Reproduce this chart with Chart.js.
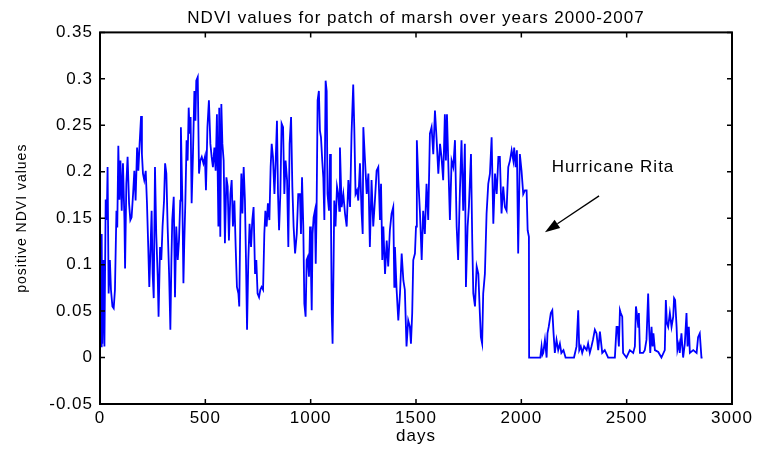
<!DOCTYPE html>
<html>
<head>
<meta charset="utf-8">
<title>NDVI values for patch of marsh over years 2000-2007</title>
<script src="https://cdn.jsdelivr.net/npm/chart.js@4.4.1/dist/chart.umd.min.js"></script>
<style>
  html, body { margin: 0; padding: 0; background: #fff; }
  #wrap { width: 761px; height: 449px; position: relative; }
</style>
</head>
<body>
<div id="wrap"><canvas id="ndviChart"></canvas></div>
<script>
// [day, NDVI] pairs, one array per year
const year2000 = [
  [0,0.155],[5,0.012],[8,0.133],[11,0.015],[16,0.105],[21,0.012],[27,0.17],[32,0.148],[36,0.205],[41,0.069],
  [47,0.105],[52,0.073],[59,0.055],[65,0.053],[71,0.073],[78,0.158],[82,0.14],[87,0.228],[92,0.17],[97,0.212],
  [103,0.158],[109,0.209],[116,0.148],[119,0.096],[125,0.187],[131,0.216],[138,0.166],[144,0.148],[150,0.151],[157,0.176],
  [163,0.201],[169,0.169],[176,0.226],[182,0.201],[188,0.23],[195,0.26],[199,0.219],[204,0.198],[210,0.191],[217,0.201],
  [223,0.166],[229,0.119],[234,0.076],[239,0.112],[245,0.158],[250,0.09],[255,0.064],[261,0.205],[267,0.133],[274,0.087],
  [278,0.044],[285,0.119],[291,0.105],[297,0.141],[304,0.169],[309,0.209],[315,0.198],[321,0.141],[328,0.09],[334,0.03],
  [339,0.105],[343,0.148],[350,0.173],[356,0.065],[362,0.141]
];
const year2001 = [
  [369,0.105],[375,0.126],[381,0.169],[384,0.248],[391,0.169],[396,0.08],[400,0.123],[405,0.166],[411,0.234],[416,0.212],
  [421,0.269],[426,0.241],[430,0.259],[435,0.166],[441,0.216],[448,0.287],[453,0.255],[457,0.298],[464,0.302],[470,0.198],
  [476,0.212],[483,0.216],[491,0.209],[498,0.216],[503,0.18],[510,0.248],[517,0.277],[524,0.23],[530,0.216],[536,0.205],
  [543,0.226],[549,0.201],[555,0.262],[562,0.141],[566,0.269],[571,0.13],[576,0.273],[581,0.23],[587,0.212],[593,0.123],
  [600,0.194],[606,0.184],[612,0.126],[619,0.176],[625,0.191],[631,0.141],[638,0.169],[644,0.119],[650,0.076],[657,0.069],
  [661,0.055],[666,0.148],[671,0.198],[676,0.155],[682,0.205],[688,0.169],[693,0.105],[698,0.03],[704,0.105],[710,0.144],
  [717,0.119],[723,0.148],[729,0.162]
];
const year2002 = [
  [736,0.09],[742,0.105],[748,0.069],[755,0.065],[761,0.073],[767,0.076],[774,0.073],[780,0.133],[785,0.158],[791,0.141],
  [797,0.166],[804,0.148],[810,0.205],[815,0.23],[821,0.216],[828,0.176],[834,0.212],[840,0.255],[845,0.176],[850,0.137],
  [856,0.176],[862,0.252],[869,0.248],[875,0.176],[881,0.212],[888,0.191],[894,0.119],[900,0.23],[907,0.259],[913,0.184],
  [919,0.141],[926,0.112],[934,0.133],[941,0.176],[949,0.176],[954,0.133],[959,0.194],[965,0.141],[970,0.058],[976,0.044],
  [981,0.105],[986,0.108],[992,0.087],[997,0.141],[1001,0.098],[1005,0.051],[1009,0.133],[1014,0.151],[1020,0.158],[1024,0.101],
  [1028,0.155],[1033,0.277],[1039,0.287],[1044,0.244],[1049,0.237],[1055,0.212],[1060,0.194],[1065,0.148],[1071,0.298],[1076,0.287],
  [1080,0.176],[1087,0.158],[1092,0.219]
];
const year2003 = [
  [1096,0.162],[1100,0.048],[1104,0.015],[1109,0.105],[1112,0.169],[1118,0.141],[1125,0.184],[1131,0.176],[1136,0.158],[1139,0.226],
  [1147,0.162],[1155,0.176],[1163,0.155],[1171,0.141],[1179,0.191],[1187,0.162],[1194,0.241],[1202,0.294],[1207,0.248],[1213,0.176],
  [1220,0.18],[1226,0.169],[1234,0.209],[1242,0.155],[1247,0.133],[1250,0.248],[1258,0.212],[1266,0.176],[1274,0.198],[1281,0.119],
  [1289,0.191],[1297,0.141],[1305,0.169],[1313,0.201],[1321,0.205],[1329,0.148],[1334,0.187],[1340,0.105],[1345,0.141],[1353,0.09],
  [1361,0.126],[1368,0.098],[1376,0.137],[1384,0.155],[1392,0.162],[1397,0.076],[1400,0.119],[1408,0.073],[1416,0.04],[1424,0.069],
  [1432,0.112],[1440,0.083],[1447,0.073],[1455,0.012]
];
const year2004 = [
  [1463,0.04],[1471,0.033],[1476,0.015],[1482,0.048],[1487,0.105],[1495,0.112],[1500,0.141],[1504,0.234],[1511,0.191],[1519,0.155],
  [1527,0.105],[1534,0.158],[1542,0.133],[1550,0.187],[1558,0.148],[1566,0.241],[1574,0.248],[1582,0.219],[1590,0.266],[1598,0.234],
  [1606,0.198],[1614,0.23],[1621,0.216],[1629,0.191],[1637,0.262],[1642,0.212],[1647,0.262],[1653,0.212],[1661,0.148],[1669,0.212],
  [1677,0.205],[1685,0.234],[1693,0.141],[1700,0.105],[1708,0.176],[1716,0.234],[1724,0.158],[1732,0.23],[1737,0.076],[1745,0.141],
  [1751,0.162],[1761,0.219],[1767,0.126],[1772,0.069],[1780,0.055],[1788,0.098],[1796,0.09],[1803,0.048],[1808,0.022],[1814,0.015],
  [1819,0.069]
];
const year2005 = [
  [1827,0.09],[1835,0.155],[1843,0.187],[1851,0.198],[1859,0.237],[1867,0.144],[1875,0.198],[1883,0.176],[1891,0.216],[1898,0.216],
  [1906,0.155],[1914,0.184],[1922,0.162],[1930,0.158],[1938,0.205],[1946,0.212],[1954,0.223],[1962,0.212],[1966,0.226],[1973,0.205],
  [1979,0.223],[1985,0.112],[1993,0.219],[2001,0.201],[2009,0.176],[2017,0.18],[2025,0.18],[2030,0.137],[2036,0.13],[2037,0],
  [2090,0],[2096,0.012],[2100,0.003],[2104,0.005],[2112,0.019],[2120,0],[2124,0.026],[2130,0.033],[2140,0.048],[2147,0.051],
  [2153,0.026],[2159,0.005],[2167,0.019],[2175,0.008],[2183,0.015],[2190,0.005]
];
const year2006 = [
  [2200,0.008],[2210,0],[2250,0],[2262,0.012],[2270,0.051],[2275,0.008],[2282,0.012],[2289,0.005],[2298,0.012],[2310,0.008],
  [2317,0.015],[2325,0.005],[2333,0.012],[2340,0.019],[2349,0.03],[2357,0.026],[2365,0.008],[2373,0.028],[2384,0.005],[2396,0.008],
  [2412,0],[2444,0],[2452,0.033],[2457,0.033],[2463,0.012],[2468,0.051],[2472,0.048],[2479,0.044],[2483,0.005],[2499,0],
  [2515,0.008],[2531,0.005],[2539,0.012],[2544,0.055],[2548,0.048],[2555,0.033]
];
const year2007 = [
  [2558,0.048],[2563,0.005],[2578,0.005],[2586,0.008],[2594,0.019],[2602,0.069],[2607,0.03],[2612,0.005],[2618,0.033],[2623,0.012],
  [2627,0.026],[2634,0.008],[2650,0.006],[2665,0],[2681,0.008],[2686,0.062],[2691,0.037],[2697,0.033],[2705,0.048],[2713,0.033],
  [2721,0.044],[2725,0.064],[2730,0.062],[2737,0.033],[2741,0.008],[2748,0.015],[2752,0.005],[2760,0.026],[2768,0],[2776,0.015],
  [2784,0.048],[2789,0.012],[2795,0.033],[2800,0.005],[2816,0.008],[2832,0.005],[2839,0.022],[2847,0.026],[2855,0],[2860,0]
];

// Axes
const xTicks = [0, 500, 1000, 1500, 2000, 2500, 3000];
const xTickLabels = ['0', '500', '1000', '1500', '2000', '2500', '3000'];
const yTicks = [-0.05, 0, 0.05, 0.1, 0.15, 0.2, 0.25, 0.3, 0.35];
const yTickLabels = ['-0.05', '0', '0.05', '0.1', '0.15', '0.2', '0.25', '0.3', '0.35'];

// Annotation (data units): label and arrow tail -> head
const noteText = 'Hurricane Rita';
const notePos = [2144, 0.205];
const arrowTail = [2369, 0.174];
const arrowHead = [2112, 0.135];

const FONT = '"Liberation Sans", Arial, Helvetica, sans-serif';
const allDays = [...year2000, ...year2001, ...year2002, ...year2003,
                 ...year2004, ...year2005, ...year2006, ...year2007];

// MATLAB-like box with inward ticks, plus the arrow note
const matlabAxes = {
  id: 'matlabAxes',
  beforeLayout(chart) { chart.ctx.letterSpacing = '1px'; },
  beforeDraw(chart) { chart.ctx.letterSpacing = '1px'; },
  afterDraw(chart) {
    const { ctx, chartArea: a, scales: { x, y } } = chart;
    ctx.save();
    ctx.strokeStyle = '#000';
    ctx.lineWidth = 1.5;
    const len = 5;
    ctx.beginPath();
    xTicks.forEach(v => {
      const px = x.getPixelForValue(v);
      ctx.moveTo(px, a.bottom); ctx.lineTo(px, a.bottom - len);
      ctx.moveTo(px, a.top); ctx.lineTo(px, a.top + len);
    });
    yTicks.forEach(v => {
      const py = y.getPixelForValue(v);
      ctx.moveTo(a.left, py); ctx.lineTo(a.left + len, py);
      ctx.moveTo(a.right, py); ctx.lineTo(a.right - len, py);
    });
    ctx.stroke();
    ctx.lineWidth = 2;
    ctx.strokeRect(a.left, a.top, a.right - a.left, a.bottom - a.top);

    // note
    ctx.fillStyle = '#000';
    ctx.font = '17px ' + FONT;
    ctx.textAlign = 'left';
    ctx.textBaseline = 'middle';
    ctx.fillText(noteText, x.getPixelForValue(notePos[0]), y.getPixelForValue(notePos[1]));

    const x1 = x.getPixelForValue(arrowTail[0]), y1 = y.getPixelForValue(arrowTail[1]);
    const x2 = x.getPixelForValue(arrowHead[0]), y2 = y.getPixelForValue(arrowHead[1]);
    const ang = Math.atan2(y2 - y1, x2 - x1);
    const headLen = 15, headW = 5;
    const bx = x2 - headLen * Math.cos(ang), by = y2 - headLen * Math.sin(ang);
    ctx.lineWidth = 1.3;
    ctx.beginPath();
    ctx.moveTo(x1, y1); ctx.lineTo(bx, by);
    ctx.stroke();
    ctx.beginPath();
    ctx.moveTo(x2, y2);
    ctx.lineTo(bx + headW * Math.sin(ang), by - headW * Math.cos(ang));
    ctx.lineTo(bx - headW * Math.sin(ang), by + headW * Math.cos(ang));
    ctx.closePath();
    ctx.fill();
    ctx.restore();
  }
};

new Chart(document.getElementById('ndviChart'), {
  type: 'line',
  data: {
    datasets: [{
      label: 'NDVI',
      data: allDays.map(([d, v]) => ({ x: d, y: v })),
      borderColor: '#0000ff',
      borderWidth: 1.8,
      pointRadius: 0,
      tension: 0,
      fill: false
    }]
  },
  options: {
    responsive: true,
    maintainAspectRatio: false,
    animation: false,
    layout: { padding: { left: 0, right: 29, top: 0, bottom: 0 } },
    plugins: {
      legend: { display: false },
      tooltip: { enabled: false },
      title: {
        display: true,
        fullSize: false,
        text: 'NDVI values for patch of marsh over years 2000-2007',
        color: '#000',
        font: { family: FONT, size: 17, weight: 'normal' },
        padding: { top: 8, bottom: 4 }
      }
    },
    scales: {
      x: {
        type: 'linear',
        min: 0,
        max: 3000,
        afterBuildTicks: s => { s.ticks = xTicks.map(v => ({ value: v })); },
        afterFit: s => { s.height = 45; },
        grid: { display: false, drawTicks: false },
        border: { display: false },
        ticks: {
          color: '#000',
          padding: 4,
          maxRotation: 0,
          autoSkip: false,
          font: { family: FONT, size: 17 },
          callback: v => xTickLabels[xTicks.indexOf(v)]
        },
        title: {
          display: true,
          text: 'days',
          color: '#000',
          font: { family: FONT, size: 17 },
          padding: { top: 0, bottom: 2 }
        }
      },
      y: {
        type: 'linear',
        min: -0.05,
        max: 0.35,
        afterBuildTicks: s => { s.ticks = yTicks.map(v => ({ value: v })); },
        afterFit: s => { s.width = 100; },
        grid: { display: false, drawTicks: false },
        border: { display: false },
        ticks: {
          color: '#000',
          padding: 7,
          autoSkip: false,
          font: { family: FONT, size: 17 },
          callback: v => yTickLabels[yTicks.indexOf(v)]
        },
        title: {
          display: true,
          text: 'positive NDVI values',
          color: '#000',
          font: { family: FONT, size: 14 },
          padding: { top: 14, bottom: 0 }
        }
      }
    }
  },
  plugins: [matlabAxes]
});
</script>
</body>
</html>
